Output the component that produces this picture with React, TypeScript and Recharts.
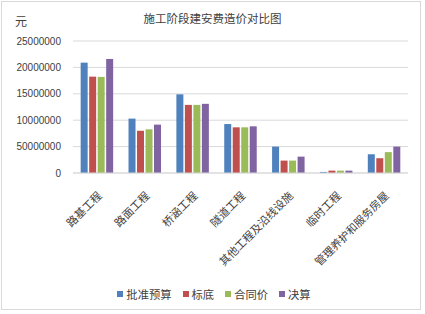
import React from "react";
import { BarChart, Bar, XAxis, YAxis, CartesianGrid, Legend } from "recharts";

const categories = ["路基工程", "路面工程", "桥涵工程", "隧道工程", "其他工程及沿线设施", "临时工程", "管理养护和服务房屋"];
const approvedBudget = [20900000, 10300000, 14900000, 9270000, 5000000, 200000, 3550000];
const tenderBase = [18250000, 8000000, 12900000, 8650000, 2350000, 450000, 2800000];
const contractPrice = [18200000, 8270000, 12900000, 8650000, 2350000, 450000, 3950000];
const finalAccount = [21600000, 9160000, 13100000, 8840000, 3100000, 450000, 5000000];
const yTicks = [0, 5000000, 10000000, 15000000, 20000000, 25000000];
const yTickLabels = ["0", "50000000", "10000000", "15000000", "20000000", "25000000"];

const seriesNames = ["批准预算", "标底", "合同价", "决算"];
const seriesKeys = ["a", "b", "c", "d"];
const colors = ["#4f81bd", "#c0504d", "#9bbb59", "#8064a2"];

const data = categories.map((name, i) => ({
  name,
  a: approvedBudget[i],
  b: tenderBase[i],
  c: contractPrice[i],
  d: finalAccount[i],
}));

const CJK = '"Noto Sans CJK SC", "Noto Sans", sans-serif';

const XTick = (props: any) => {
  const { x, y, payload } = props;
  const ax = x + 2;
  const ay = y + 12;
  return (
    <text
      x={ax}
      y={ay}
      transform={`rotate(-45, ${ax}, ${ay})`}
      textAnchor="end"
      dominantBaseline="central"
      fontSize={11}
      fontFamily={CJK}
      fill="#404040"
    >
      {payload.value}
    </text>
  );
};

const LegendContent = () => (
  <div style={{ display: "flex", justifyContent: "center", alignItems: "center", height: 16, fontFamily: CJK, fontSize: 11.3, color: "#404040", paddingLeft: 20 }}>
    {seriesNames.map((n, i) => (
      <div key={n} style={{ display: "flex", alignItems: "center", marginRight: i < 3 ? 11 : 0 }}>
        <div style={{ width: 6, height: 6, background: colors[i], marginRight: 3 }} />
        <span>{n}</span>
      </div>
    ))}
  </div>
);

export default function App() {
  return (
    <div style={{ position: "absolute", left: 0, top: 0, width: 425, height: 314, background: "#fff" }}>
      <div style={{ position: "absolute", left: 1, top: 1, width: 420, height: 309, border: "1px solid #d9d9d9", boxSizing: "border-box" }} />
      <div style={{ position: "absolute", left: 0, top: 10, width: 425, textAlign: "center", fontFamily: CJK, fontSize: 11.5, color: "#404040", lineHeight: "16px" }}>
        施工阶段建安费造价对比图
      </div>
      <div style={{ position: "absolute", left: 15, top: 13, fontFamily: CJK, fontSize: 12, color: "#404040", lineHeight: "16px" }}>
        元
      </div>
      <div style={{ position: "absolute", left: 0, top: 0 }}>
        <BarChart
          width={425}
          height={314}
          data={data}
          margin={{ top: 41, right: 17, bottom: 12, left: 0 }}
          barCategoryGap="16%"
          barGap={1.5}
        >
          <CartesianGrid vertical={false} stroke="#d9d9d9" />
          <XAxis
            dataKey="name"
            interval={0}
            tickLine={false}
            axisLine={{ stroke: "#d9d9d9" }}
            height={113}
            tick={<XTick />}
          />
          <YAxis
            width={73}
            domain={[0, 25000000]}
            ticks={yTicks}
            tickFormatter={(v: number) => yTickLabels[yTicks.indexOf(v)]}
            axisLine={false}
            tickLine={false}
            tickMargin={6}
            tick={{ fontSize: 10, fill: "#404040", fontFamily: '"Liberation Sans", Arial, sans-serif' }}
          />
          <Legend verticalAlign="bottom" content={<LegendContent />} />
          {seriesKeys.map((k, i) => (
            <Bar key={k} dataKey={k} name={seriesNames[i]} fill={colors[i]} isAnimationActive={false} />
          ))}
        </BarChart>
      </div>
    </div>
  );
}
